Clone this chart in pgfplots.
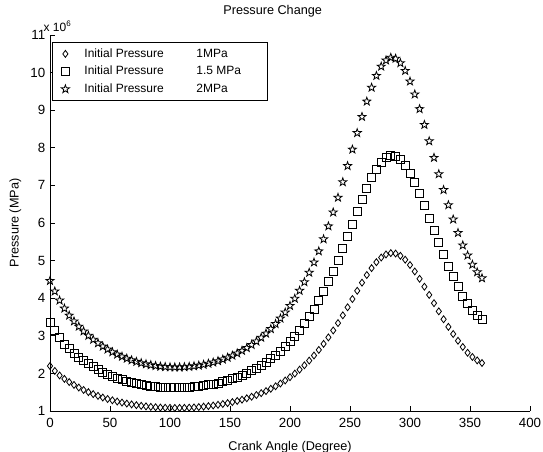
\documentclass[border=0pt]{standalone}
\usepackage{fontspec}
\setmainfont{Liberation Sans}
\usepackage{pgfplots}
\pgfplotsset{compat=1.18}
\usepackage{pgfplotstable}

% open five-pointed star, like MATLAB's 'p' marker
\pgfdeclareplotmark{pentagram}{%
  \pgfpathmoveto{\pgfpointpolar{90}{\pgfplotmarksize}}%
  \pgfpathlineto{\pgfpointpolar{126}{0.4\pgfplotmarksize}}%
  \pgfpathlineto{\pgfpointpolar{162}{\pgfplotmarksize}}%
  \pgfpathlineto{\pgfpointpolar{198}{0.4\pgfplotmarksize}}%
  \pgfpathlineto{\pgfpointpolar{234}{\pgfplotmarksize}}%
  \pgfpathlineto{\pgfpointpolar{270}{0.4\pgfplotmarksize}}%
  \pgfpathlineto{\pgfpointpolar{306}{\pgfplotmarksize}}%
  \pgfpathlineto{\pgfpointpolar{342}{0.4\pgfplotmarksize}}%
  \pgfpathlineto{\pgfpointpolar{18}{\pgfplotmarksize}}%
  \pgfpathlineto{\pgfpointpolar{54}{0.4\pgfplotmarksize}}%
  \pgfpathclose
  \pgfusepathqstroke}

% crank angle (deg), pressure for 1, 1.5 and 2 MPa initial pressure
\pgfplotstableread{
angle p1 p15 p2
0 2.196 3.354 4.462
4 2.066 3.139 4.182
8 1.946 2.948 3.941
12 1.854 2.781 3.727
16 1.770 2.655 3.540
20 1.693 2.540 3.386
24 1.624 2.435 3.247
28 1.560 2.340 3.120
32 1.502 2.253 3.004
36 1.449 2.174 2.899
40 1.402 2.102 2.803
44 1.358 2.037 2.716
48 1.319 1.978 2.638
52 1.284 1.925 2.567
56 1.252 1.877 2.503
60 1.223 1.834 2.446
64 1.197 1.796 2.395
68 1.175 1.762 2.350
72 1.155 1.732 2.310
76 1.138 1.706 2.275
80 1.123 1.684 2.245
84 1.110 1.665 2.221
88 1.100 1.650 2.200
92 1.092 1.638 2.184
96 1.086 1.630 2.173
100 1.083 1.624 2.165
104 1.081 1.622 2.162
108 1.082 1.623 2.163
112 1.084 1.626 2.169
116 1.089 1.634 2.178
120 1.096 1.644 2.192
124 1.105 1.657 2.210
128 1.116 1.674 2.232
132 1.130 1.695 2.260
136 1.146 1.719 2.292
140 1.165 1.747 2.329
144 1.186 1.779 2.371
148 1.210 1.815 2.420
152 1.237 1.855 2.474
156 1.267 1.901 2.534
160 1.301 1.951 2.602
164 1.338 2.007 2.676
168 1.379 2.069 2.759
172 1.425 2.137 2.850
176 1.475 2.213 2.950
180 1.530 2.295 3.061
184 1.591 2.386 3.182
188 1.658 2.486 3.315
192 1.731 2.596 3.461
196 1.811 2.716 3.621
200 1.899 2.848 3.797
204 1.995 2.992 3.989
208 2.100 3.150 4.200
212 2.215 3.322 4.429
216 2.340 3.510 4.680
220 2.476 3.714 4.953
224 2.624 3.937 5.249
228 2.785 4.177 5.569
232 2.957 4.436 5.914
236 3.142 4.712 6.283
240 3.338 5.007 6.675
244 3.544 5.316 7.088
248 3.758 5.637 7.517
252 3.978 5.966 7.955
256 4.197 6.296 8.395
260 4.413 6.619 8.825
264 4.616 6.924 9.232
268 4.800 7.201 9.601
272 4.958 7.437 9.916
276 5.081 7.621 10.162
280 5.163 7.744 10.325
284 5.199 7.798 10.397
288 5.187 7.780 10.373
292 5.127 7.691 10.254
296 5.024 7.536 10.048
300 4.883 7.325 9.766
304 4.711 7.067 9.422
308 4.516 6.774 9.032
312 4.306 6.459 8.612
316 4.088 6.132 8.176
320 3.868 5.801 7.735
324 3.650 5.475 7.301
328 3.440 5.159 6.879
332 3.238 4.857 6.477
336 3.048 4.572 6.096
340 2.869 4.304 5.738
344 2.703 4.054 5.406
348 2.549 3.853 5.138
352 2.437 3.670 4.893
356 2.346 3.534 4.692
360 2.276 3.434 4.532
}\pressure

\begin{document}
\begin{tikzpicture}
\begin{axis}[
    name=ax,
    scale only axis,
    width=360pt, height=282pt,
    xmin=0, xmax=400,
    ymin=1, ymax=11,
    xtick={0,50,...,400},
    ytick={1,2,...,11},
    axis lines=left,
    axis line style={-, line width=0.6pt},
    tick align=inside,
    major tick length=4pt,
    tick style={black, line width=0.5pt},
    /pgf/number format/assume math mode=true,
    ticklabel style={font=\fontsize{10}{11}\selectfont},
    xticklabel style={yshift=-2pt},
    label style={font=\fontsize{9.5}{10}\selectfont},
    xlabel style={yshift=-3pt},
    title={Pressure Change},
    title style={font=\fontsize{9.5}{10}\selectfont, yshift=4pt, xshift=-13pt},
    xlabel={Crank Angle (Degree)},
    ylabel={Pressure (MPa)},
    legend style={
        at={(axis description cs:0.004,0.981)}, anchor=north west,
        draw=black, line width=0.6pt,
        font=\fontsize{9}{10}\selectfont,
        row sep=1.2pt, inner sep=2.5pt
    },
    legend cell align=left,
    legend image code/.code={%
        \path (0pt,0pt) (19pt,0pt);
        \draw[#1] plot coordinates {(7pt,0pt)};},
]
\addplot[only marks, mark=diamond, mark size=2.6pt, mark options={line width=0.6pt}]
    table[x=angle, y=p1] {\pressure};
\addlegendentry{\makebox[84pt][l]{Initial Pressure}1MPa}
\addplot[only marks, mark=square, mark size=3pt, mark options={line width=0.6pt}]
    table[x=angle, y=p15] {\pressure};
\addlegendentry{\makebox[84pt][l]{Initial Pressure}1.5 MPa\hspace*{15pt}}
\addplot[only marks, mark=pentagram, mark size=3.2pt, mark options={line width=0.6pt}]
    table[x=angle, y=p2] {\pressure};
\addlegendentry{\makebox[84pt][l]{Initial Pressure}2MPa}
\end{axis}
\node[anchor=south west, font=\fontsize{9}{10}\selectfont, inner sep=0pt]
    at ([shift={(-5pt,2pt)}]ax.north west) {x 10\textsuperscript{6}};
\pgfresetboundingbox
\path[use as bounding box] ([shift={(-37.5pt,-30.75pt)}]ax.south west)
    rectangle ([shift={(9.75pt,26.25pt)}]ax.north east);
\end{tikzpicture}
\end{document}
